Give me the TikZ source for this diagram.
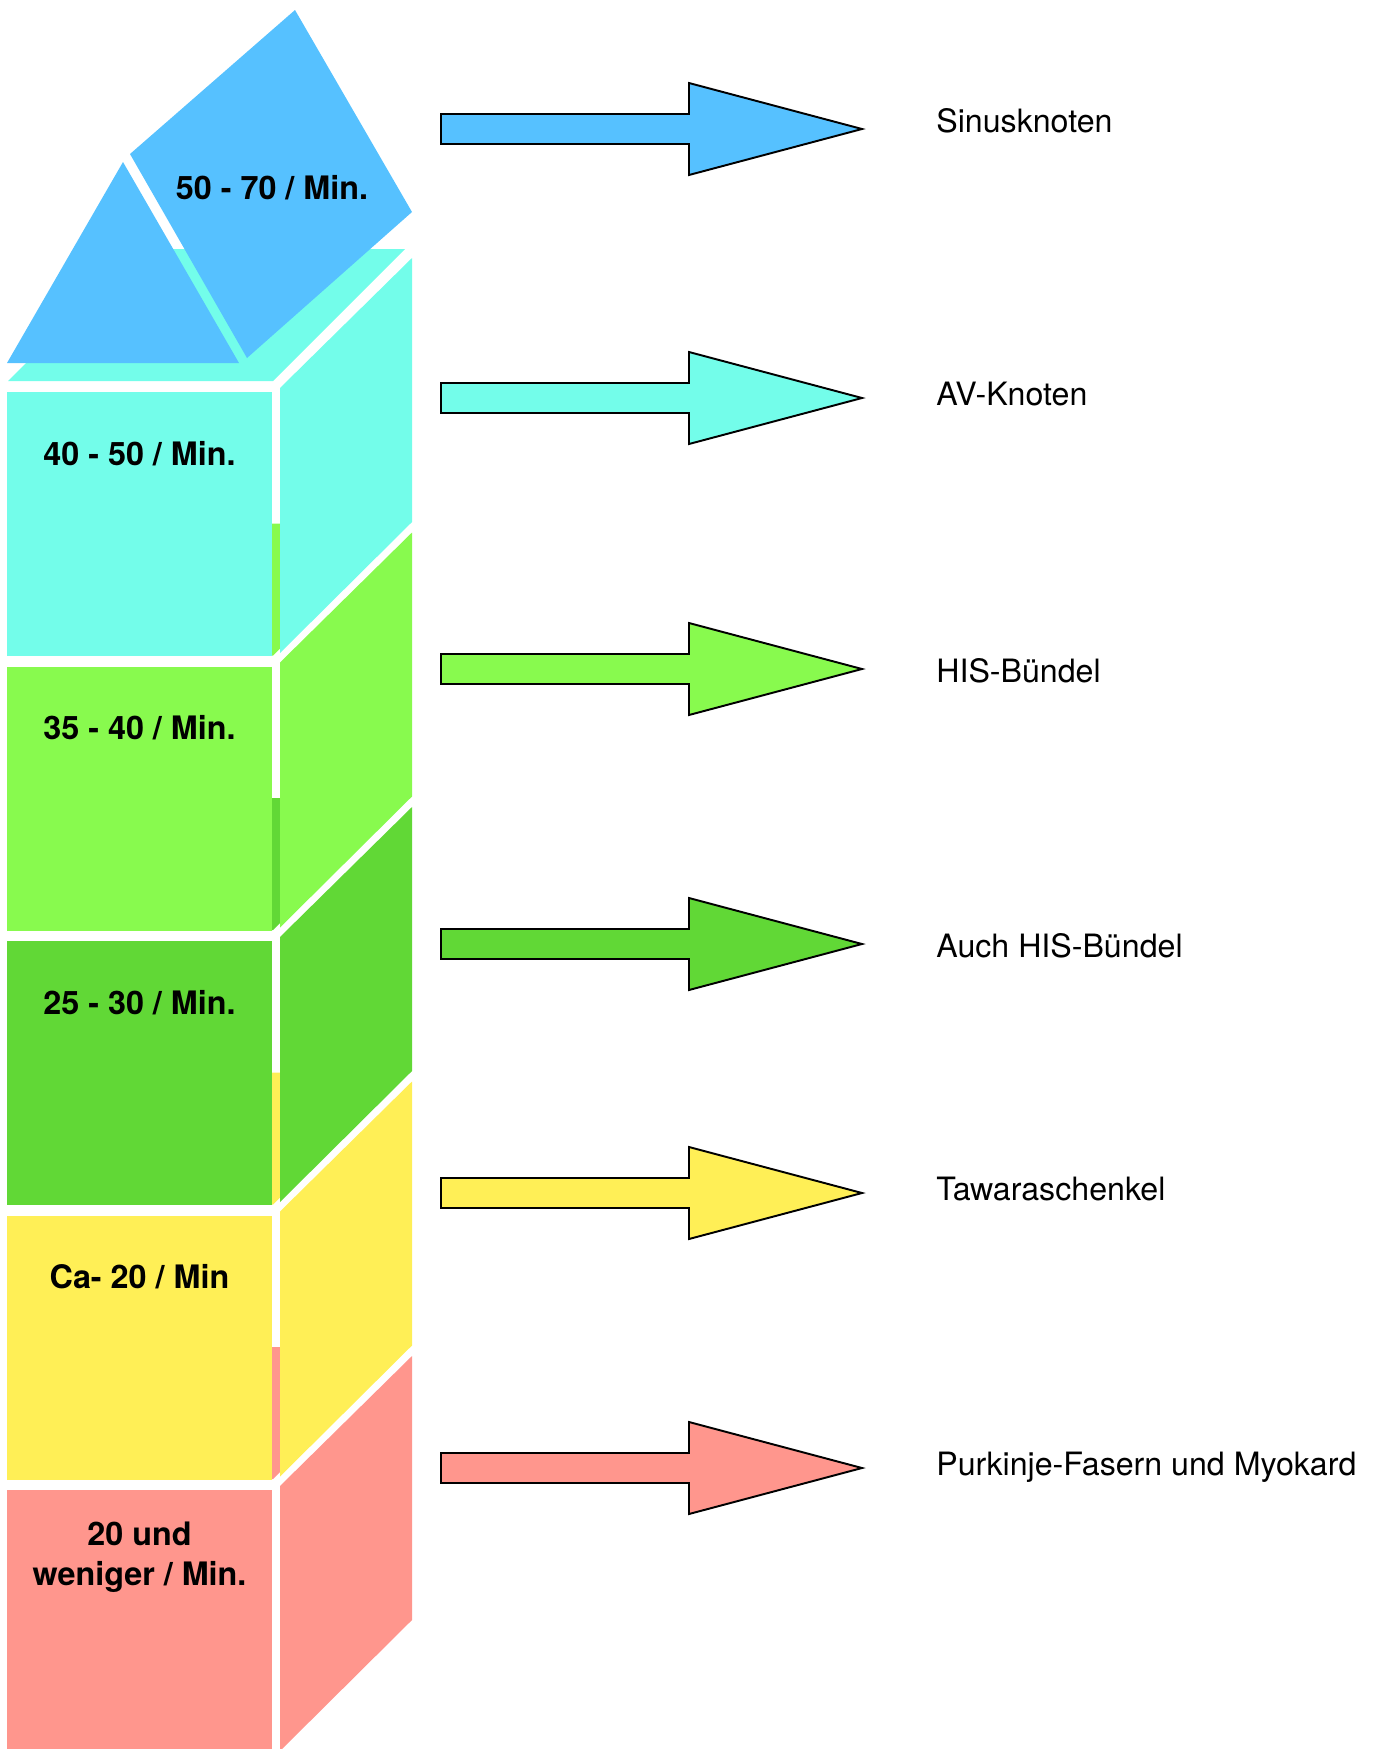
\documentclass[tikz,border=0pt]{standalone}
\usepackage{fontspec}
\setmainfont{TeX Gyre Heros}
\usetikzlibrary{positioning}
\definecolor{roofblue}{HTML}{56C1FF}
\definecolor{avcyan}{HTML}{73FDEA}
\definecolor{hisgreen}{HTML}{88FA4E}
\definecolor{hisdark}{HTML}{61D836}
\definecolor{tawyellow}{HTML}{FFEF56}
\definecolor{purksalmon}{HTML}{FF968D}

\begin{document}
\begin{tikzpicture}[
  x=0.02cm, y=-0.02cm,
  every node/.style={inner sep=0pt},
  rate/.style={font=\fontsize{18.4}{22.7}\selectfont\bfseries, align=center},
  part/.style={font=\fontsize{18.3}{22}\selectfont, anchor=base west},
  blockarrow/.style={draw=black, line width=1.1pt, line join=miter}
]
\useasboundingbox (0,0) rectangle (1379,1749);

% cubes, bottom one first
\foreach \k/\col in {4/purksalmon, 3/tawyellow, 2/hisdark, 1/hisgreen, 0/avcyan}{
  \pgfmathsetmacro{\t}{392+274.5*\k}
  \fill[\col] (8,\t-11) -- (273,\t-11) -- (405,\t-143) -- (140,\t-143) -- cycle;
  \fill[\col] (7,\t) rectangle (272,\t+264);
  \fill[\col] (280,\t-4) -- (412,\t-134) -- (412,\t+130) -- (280,\t+261) -- cycle;
}

% roof
\fill[roofblue] (123,162) -- (239,363) -- (7,363) -- cycle;
\fill[roofblue] (295,10) -- (412,212) -- (247,358) -- (130,154) -- cycle;

\node[rate] (sinus-rate) at (272,188) {50 - 70 / Min.};
\node[rate] (av-rate) at (139.5,454) {40 - 50 / Min.};
\node[rate] (his-rate) at (139.5,728) {35 - 40 / Min.};
\node[rate] (auch-rate) at (139.5,1003) {25 - 30 / Min.};
\node[rate] (taw-rate) at (139.5,1277) {Ca- 20 / Min};
\node[rate] (purk-rate) at (139.5,1557) {20 und\\weniger / Min.};

\foreach \y/\b/\col/\txt [count=\i] in {129/132/roofblue/Sinusknoten, 398/405/avcyan/AV-Knoten, 669/682/hisgreen/HIS-Bündel, 944/957/hisdark/Auch HIS-Bündel, 1193/1200/tawyellow/Tawaraschenkel, 1468/1475/purksalmon/Purkinje-Fasern und Myokard}{
  \draw[blockarrow, fill=\col] (441,\y-15) -- (689,\y-15) -- (689,\y-46) -- (862,\y) -- (689,\y+46) -- (689,\y+15) -- (441,\y+15) -- cycle;
  \node[part] (part\i) at (936,\b) {\txt};
}
\end{tikzpicture}
\end{document}
